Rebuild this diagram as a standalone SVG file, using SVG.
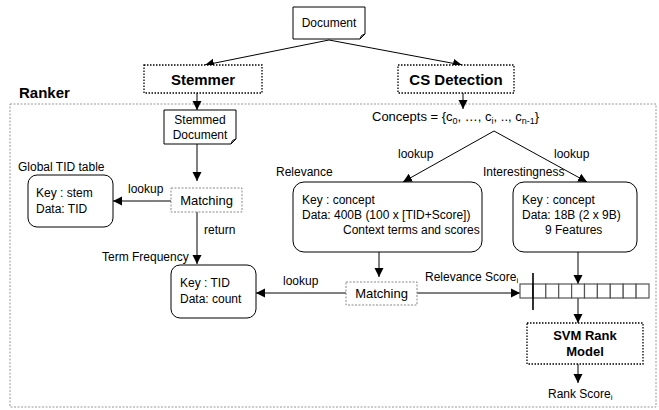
<svg xmlns="http://www.w3.org/2000/svg" width="659" height="410" viewBox="0 0 659 410">
<defs>
<marker id="ah" markerWidth="10" markerHeight="10" refX="9" refY="5" orient="auto" markerUnits="userSpaceOnUse">
<path d="M0,0.5 L9,5 L0,9.5 Z" fill="#000"/>
</marker>
</defs>
<style>
text{font-family:"Liberation Sans",Arial,sans-serif;fill:#000}
.t12{font-size:12px}
.t13{font-size:13px}
.b15{font-size:15px;font-weight:bold}
.b13{font-size:13px;font-weight:bold}
.box{fill:#fff;stroke:#000;stroke-width:1}
.dotb{fill:#fff;stroke:#000;stroke-width:1.3;stroke-dasharray:1.5 1.5}
.dotg{fill:#fff;stroke:#888;stroke-width:1;stroke-dasharray:2 1.5}
.con{fill:none;stroke:#000;stroke-width:1;marker-end:url(#ah)}
.line{fill:none;stroke:#000;stroke-width:1}
.cell{fill:#fff;stroke:#555;stroke-width:1.2}
</style>
<rect width="659" height="410" fill="#fff"/>

<g id="ranker">
<rect x="10" y="104" width="646" height="303" fill="none" stroke="#999" stroke-width="1" stroke-dasharray="2 1.5"/>
<text class="b15" x="19" y="98">Ranker</text>
</g>

<g id="connectors">
<path class="con" d="M329,40 L205,65"/>
<path class="con" d="M329,40 L462,65"/>
<path class="con" d="M197,93 L197,110"/>
<path class="con" d="M463,93 L463,109"/>
<path class="con" d="M197,144 L197,181"/>
<path class="con" d="M171,201 L113,201"/>
<path class="con" d="M197,212 L197,264"/>
<path class="con" d="M494,131 L403,182"/>
<path class="con" d="M494,131 L587,182"/>
<path class="con" d="M379,252 L379,277"/>
<path class="con" d="M346,293 L256,293"/>
<path class="con" d="M417,293 L520,293"/>
<path class="con" d="M578,252 L578,284"/>
<path class="con" d="M578,298 L578,323"/>
<path class="con" d="M578,364 L578,383"/>
<text class="t12" x="128" y="193">lookup</text>
<text class="t12" x="204" y="234">return</text>
<text class="t12" x="398" y="158">lookup</text>
<text class="t12" x="554" y="158">lookup</text>
<text class="t12" x="283" y="285">lookup</text>
<text class="t12" x="425" y="281">Relevance Score<tspan font-size="8" dy="2">i</tspan></text>
</g>

<g id="document">
<path class="box" d="M293,7 H365 V34 L360,39 H293 Z"/>
<path class="line" d="M360,39 L361.5,35.5 L365,34"/>
<text class="t12" x="329" y="27" text-anchor="middle">Document</text>
</g>

<g id="stemmer">
<rect class="dotb" x="144" y="65" width="118" height="28"/>
<text class="b15" x="203" y="85" text-anchor="middle">Stemmer</text>
</g>

<g id="csdetection">
<rect class="dotb" x="398" y="65" width="116" height="28"/>
<text class="b15" x="456" y="85" text-anchor="middle">CS Detection</text>
</g>

<g id="stemmed-document">
<path class="box" d="M164,110 H236 V139 L231,144 H164 Z"/>
<path class="line" d="M231,144 L232.5,140.5 L236,139"/>
<text class="t12" x="200" y="124" text-anchor="middle">Stemmed</text>
<text class="t12" x="200" y="139" text-anchor="middle">Document</text>
</g>

<g id="concepts">
<text class="t13" x="372" y="121">Concepts = {c<tspan font-size="9" dy="3">0</tspan><tspan dy="-3">, …, c</tspan><tspan font-size="9" dy="3">i</tspan><tspan dy="-3">, .., c</tspan><tspan font-size="9" dy="3">n-1</tspan><tspan dy="-3">}</tspan></text>
</g>

<g id="global-tid">
<text class="t12" x="18" y="171">Global TID table</text>
<rect class="box" x="28" y="175" width="85" height="52" rx="9"/>
<text class="t12" x="36" y="197">Key : stem</text>
<text class="t12" x="36" y="213">Data: TID</text>
</g>

<g id="matching1">
<rect class="dotg" x="171" y="188" width="71" height="24"/>
<text class="t13" x="206.5" y="205" text-anchor="middle">Matching</text>
</g>

<g id="term-frequency">
<text class="t12" x="102" y="261">Term Frequency</text>
<rect class="box" x="171" y="265" width="85" height="53" rx="9"/>
<text class="t12" x="180" y="287">Key : TID</text>
<text class="t12" x="180" y="303">Data: count</text>
</g>

<g id="relevance">
<text class="t12" x="276" y="176">Relevance</text>
<rect class="box" x="293" y="182" width="189" height="70" rx="11"/>
<text class="t12" x="302" y="204">Key : concept</text>
<text class="t12" x="302" y="219">Data: 400B (100 x [TID+Score])</text>
<text class="t12" x="343" y="234">Context terms and scores</text>
</g>

<g id="interestingness">
<text class="t12" x="483" y="176">Interestingness</text>
<rect class="box" x="513" y="182" width="124" height="70" rx="11"/>
<text class="t12" x="522" y="204">Key : concept</text>
<text class="t12" x="522" y="219">Data: 18B (2 x 9B)</text>
<text class="t12" x="545" y="234">9 Features</text>
</g>

<g id="matching2">
<rect class="dotg" x="346" y="282" width="71" height="23"/>
<text class="t13" x="381.5" y="298" text-anchor="middle">Matching</text>
</g>

<g id="feature-vector">
<rect class="cell" x="520" y="284" width="12.9" height="14"/>
<rect class="cell" x="532.9" y="284" width="12.9" height="14"/>
<rect class="cell" x="545.8" y="284" width="12.9" height="14"/>
<rect class="cell" x="558.7" y="284" width="12.9" height="14"/>
<rect class="cell" x="571.6" y="284" width="12.9" height="14"/>
<rect class="cell" x="584.5" y="284" width="12.9" height="14"/>
<rect class="cell" x="597.4" y="284" width="12.9" height="14"/>
<rect class="cell" x="610.3" y="284" width="12.9" height="14"/>
<rect class="cell" x="623.2" y="284" width="12.9" height="14"/>
<rect class="cell" x="636.1" y="284" width="12.9" height="14"/>
<line x1="533" y1="273" x2="533" y2="310" stroke="#000" stroke-width="1.6"/>
</g>

<g id="svm">
<rect class="dotb" x="527" y="323" width="116" height="41"/>
<text class="b13" x="585" y="340" text-anchor="middle">SVM Rank</text>
<text class="b13" x="585" y="356" text-anchor="middle">Model</text>
</g>

<g id="rank-score">
<text class="t12" x="548" y="398">Rank Score<tspan font-size="8" dy="2">i</tspan></text>
</g>
</svg>
